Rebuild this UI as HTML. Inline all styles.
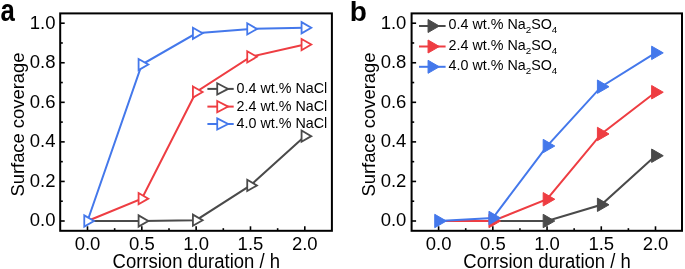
<!DOCTYPE html>
<html><head><meta charset="utf-8"><style>
html,body{margin:0;padding:0;background:#fff;width:685px;height:269px;overflow:hidden}
svg{display:block;will-change:transform}
text{font-family:"Liberation Sans", sans-serif;fill:#000}
.tk{font-size:18.5px}
.ax{font-size:18.5px}
.ay{font-size:18.4px}
.lga{font-size:14.3px}
.lgb{font-size:14.3px}
.sb{font-size:9.8px}
.pl{font-size:28px;font-weight:bold}
</style></head><body>
<svg width="685" height="269" viewBox="0 0 685 269">
<rect width="685" height="269" fill="#fff"/>
<rect x="60.20" y="13.40" width="271.70" height="217.40" fill="none" stroke="#000" stroke-width="2.00"/>
<line x1="60.20" y1="221.00" x2="64.70" y2="221.00" stroke="#000" stroke-width="1.6"/>
<line x1="60.20" y1="201.22" x2="62.80" y2="201.22" stroke="#000" stroke-width="1.6"/>
<line x1="60.20" y1="181.44" x2="64.70" y2="181.44" stroke="#000" stroke-width="1.6"/>
<line x1="60.20" y1="161.66" x2="62.80" y2="161.66" stroke="#000" stroke-width="1.6"/>
<line x1="60.20" y1="141.88" x2="64.70" y2="141.88" stroke="#000" stroke-width="1.6"/>
<line x1="60.20" y1="122.10" x2="62.80" y2="122.10" stroke="#000" stroke-width="1.6"/>
<line x1="60.20" y1="102.32" x2="64.70" y2="102.32" stroke="#000" stroke-width="1.6"/>
<line x1="60.20" y1="82.54" x2="62.80" y2="82.54" stroke="#000" stroke-width="1.6"/>
<line x1="60.20" y1="62.76" x2="64.70" y2="62.76" stroke="#000" stroke-width="1.6"/>
<line x1="60.20" y1="42.98" x2="62.80" y2="42.98" stroke="#000" stroke-width="1.6"/>
<line x1="60.20" y1="23.20" x2="64.70" y2="23.20" stroke="#000" stroke-width="1.6"/>
<line x1="87.50" y1="230.80" x2="87.50" y2="226.30" stroke="#000" stroke-width="1.6"/>
<line x1="114.66" y1="230.80" x2="114.66" y2="228.20" stroke="#000" stroke-width="1.6"/>
<line x1="141.82" y1="230.80" x2="141.82" y2="226.30" stroke="#000" stroke-width="1.6"/>
<line x1="168.99" y1="230.80" x2="168.99" y2="228.20" stroke="#000" stroke-width="1.6"/>
<line x1="196.15" y1="230.80" x2="196.15" y2="226.30" stroke="#000" stroke-width="1.6"/>
<line x1="223.31" y1="230.80" x2="223.31" y2="228.20" stroke="#000" stroke-width="1.6"/>
<line x1="250.48" y1="230.80" x2="250.48" y2="226.30" stroke="#000" stroke-width="1.6"/>
<line x1="277.64" y1="230.80" x2="277.64" y2="228.20" stroke="#000" stroke-width="1.6"/>
<line x1="304.80" y1="230.80" x2="304.80" y2="226.30" stroke="#000" stroke-width="1.6"/>
<text x="55.50" y="226.40" text-anchor="end" class="tk">0.0</text>
<text x="55.50" y="186.84" text-anchor="end" class="tk">0.2</text>
<text x="55.50" y="147.28" text-anchor="end" class="tk">0.4</text>
<text x="55.50" y="107.72" text-anchor="end" class="tk">0.6</text>
<text x="55.50" y="68.16" text-anchor="end" class="tk">0.8</text>
<text x="55.50" y="28.60" text-anchor="end" class="tk">1.0</text>
<text x="87.50" y="249.60" text-anchor="middle" class="tk">0.0</text>
<text x="141.82" y="249.60" text-anchor="middle" class="tk">0.5</text>
<text x="196.15" y="249.60" text-anchor="middle" class="tk">1.0</text>
<text x="250.48" y="249.60" text-anchor="middle" class="tk">1.5</text>
<text x="304.80" y="249.60" text-anchor="middle" class="tk">2.0</text>
<text transform="translate(196.30 268.00) scale(1 1.060)" text-anchor="middle" class="ax">Corrsion duration / h</text>
<text transform="translate(23.90 124.55) rotate(-90) scale(1 1.030)" text-anchor="middle" class="ay">Surface coverage</text>
<polyline points="87.50,221.00 141.82,221.00 196.15,220.21 250.48,185.40 304.80,136.14" fill="none" stroke="#4a4a4a" stroke-width="2"/>
<path d="M138.59 215.40L148.29 221.00L138.59 226.60Z" fill="#fff" stroke="#4a4a4a" stroke-width="1.80" stroke-linejoin="miter"/>
<path d="M192.92 214.61L202.62 220.21L192.92 225.81Z" fill="#fff" stroke="#4a4a4a" stroke-width="1.80" stroke-linejoin="miter"/>
<path d="M247.24 179.80L256.94 185.40L247.24 191.00Z" fill="#fff" stroke="#4a4a4a" stroke-width="1.80" stroke-linejoin="miter"/>
<path d="M301.57 130.54L311.27 136.14L301.57 141.74Z" fill="#fff" stroke="#4a4a4a" stroke-width="1.80" stroke-linejoin="miter"/>
<polyline points="87.50,221.00 141.82,198.65 196.15,92.03 250.48,56.83 304.80,44.56" fill="none" stroke="#ee3d42" stroke-width="2"/>
<path d="M138.59 193.05L148.29 198.65L138.59 204.25Z" fill="#fff" stroke="#ee3d42" stroke-width="1.80" stroke-linejoin="miter"/>
<path d="M192.92 86.43L202.62 92.03L192.92 97.63Z" fill="#fff" stroke="#ee3d42" stroke-width="1.80" stroke-linejoin="miter"/>
<path d="M247.24 51.23L256.94 56.83L247.24 62.43Z" fill="#fff" stroke="#ee3d42" stroke-width="1.80" stroke-linejoin="miter"/>
<path d="M301.57 38.96L311.27 44.56L301.57 50.16Z" fill="#fff" stroke="#ee3d42" stroke-width="1.80" stroke-linejoin="miter"/>
<polyline points="87.50,221.00 141.82,64.54 196.15,33.29 250.48,28.94 304.80,27.75" fill="none" stroke="#4478eb" stroke-width="2"/>
<path d="M84.27 215.40L93.97 221.00L84.27 226.60Z" fill="#fff" stroke="#4478eb" stroke-width="1.80" stroke-linejoin="miter"/>
<path d="M138.59 58.94L148.29 64.54L138.59 70.14Z" fill="#fff" stroke="#4478eb" stroke-width="1.80" stroke-linejoin="miter"/>
<path d="M192.92 27.69L202.62 33.29L192.92 38.89Z" fill="#fff" stroke="#4478eb" stroke-width="1.80" stroke-linejoin="miter"/>
<path d="M247.24 23.34L256.94 28.94L247.24 34.54Z" fill="#fff" stroke="#4478eb" stroke-width="1.80" stroke-linejoin="miter"/>
<path d="M301.57 22.15L311.27 27.75L301.57 33.35Z" fill="#fff" stroke="#4478eb" stroke-width="1.80" stroke-linejoin="miter"/>
<line x1="207.40" y1="88.90" x2="233.70" y2="88.90" stroke="#4a4a4a" stroke-width="2"/>
<path d="M217.23 83.30L228.09 88.90L217.23 94.50Z" fill="#fff" stroke="#4a4a4a" stroke-width="1.80" stroke-linejoin="miter"/>
<text x="236.60" y="92.80" class="lga">0.4 wt.% NaCl</text>
<line x1="207.40" y1="106.60" x2="233.70" y2="106.60" stroke="#ee3d42" stroke-width="2"/>
<path d="M217.23 101.00L228.09 106.60L217.23 112.20Z" fill="#fff" stroke="#ee3d42" stroke-width="1.80" stroke-linejoin="miter"/>
<text x="236.60" y="110.50" class="lga">2.4 wt.% NaCl</text>
<line x1="207.40" y1="124.00" x2="233.70" y2="124.00" stroke="#4478eb" stroke-width="2"/>
<path d="M217.23 118.40L228.09 124.00L217.23 129.60Z" fill="#fff" stroke="#4478eb" stroke-width="1.80" stroke-linejoin="miter"/>
<text x="236.60" y="127.90" class="lga">4.0 wt.% NaCl</text>
<rect x="411.60" y="13.40" width="270.40" height="217.40" fill="none" stroke="#000" stroke-width="2.00"/>
<line x1="411.60" y1="221.00" x2="416.10" y2="221.00" stroke="#000" stroke-width="1.6"/>
<line x1="411.60" y1="201.22" x2="414.20" y2="201.22" stroke="#000" stroke-width="1.6"/>
<line x1="411.60" y1="181.44" x2="416.10" y2="181.44" stroke="#000" stroke-width="1.6"/>
<line x1="411.60" y1="161.66" x2="414.20" y2="161.66" stroke="#000" stroke-width="1.6"/>
<line x1="411.60" y1="141.88" x2="416.10" y2="141.88" stroke="#000" stroke-width="1.6"/>
<line x1="411.60" y1="122.10" x2="414.20" y2="122.10" stroke="#000" stroke-width="1.6"/>
<line x1="411.60" y1="102.32" x2="416.10" y2="102.32" stroke="#000" stroke-width="1.6"/>
<line x1="411.60" y1="82.54" x2="414.20" y2="82.54" stroke="#000" stroke-width="1.6"/>
<line x1="411.60" y1="62.76" x2="416.10" y2="62.76" stroke="#000" stroke-width="1.6"/>
<line x1="411.60" y1="42.98" x2="414.20" y2="42.98" stroke="#000" stroke-width="1.6"/>
<line x1="411.60" y1="23.20" x2="416.10" y2="23.20" stroke="#000" stroke-width="1.6"/>
<line x1="438.60" y1="230.80" x2="438.60" y2="226.30" stroke="#000" stroke-width="1.6"/>
<line x1="465.71" y1="230.80" x2="465.71" y2="228.20" stroke="#000" stroke-width="1.6"/>
<line x1="492.83" y1="230.80" x2="492.83" y2="226.30" stroke="#000" stroke-width="1.6"/>
<line x1="519.94" y1="230.80" x2="519.94" y2="228.20" stroke="#000" stroke-width="1.6"/>
<line x1="547.05" y1="230.80" x2="547.05" y2="226.30" stroke="#000" stroke-width="1.6"/>
<line x1="574.16" y1="230.80" x2="574.16" y2="228.20" stroke="#000" stroke-width="1.6"/>
<line x1="601.28" y1="230.80" x2="601.28" y2="226.30" stroke="#000" stroke-width="1.6"/>
<line x1="628.39" y1="230.80" x2="628.39" y2="228.20" stroke="#000" stroke-width="1.6"/>
<line x1="655.50" y1="230.80" x2="655.50" y2="226.30" stroke="#000" stroke-width="1.6"/>
<text x="406.40" y="226.40" text-anchor="end" class="tk">0.0</text>
<text x="406.40" y="186.84" text-anchor="end" class="tk">0.2</text>
<text x="406.40" y="147.28" text-anchor="end" class="tk">0.4</text>
<text x="406.40" y="107.72" text-anchor="end" class="tk">0.6</text>
<text x="406.40" y="68.16" text-anchor="end" class="tk">0.8</text>
<text x="406.40" y="28.60" text-anchor="end" class="tk">1.0</text>
<text x="438.60" y="249.60" text-anchor="middle" class="tk">0.0</text>
<text x="492.83" y="249.60" text-anchor="middle" class="tk">0.5</text>
<text x="547.05" y="249.60" text-anchor="middle" class="tk">1.0</text>
<text x="601.28" y="249.60" text-anchor="middle" class="tk">1.5</text>
<text x="655.50" y="249.60" text-anchor="middle" class="tk">2.0</text>
<text transform="translate(547.05 268.00) scale(1 1.060)" text-anchor="middle" class="ax">Corrsion duration / h</text>
<text transform="translate(374.50 124.55) rotate(-90) scale(1 1.030)" text-anchor="middle" class="ay">Surface coverage</text>
<polyline points="438.60,221.00 492.83,221.00 547.05,221.00 601.28,204.78 655.50,155.73" fill="none" stroke="#4a4a4a" stroke-width="2"/>
<path d="M543.18 214.30L554.79 221.00L543.18 227.70Z" fill="#4a4a4a" stroke="#4a4a4a" stroke-width="1" stroke-linejoin="miter"/>
<path d="M597.41 198.08L609.01 204.78L597.41 211.48Z" fill="#4a4a4a" stroke="#4a4a4a" stroke-width="1" stroke-linejoin="miter"/>
<path d="M651.63 149.03L663.24 155.73L651.63 162.43Z" fill="#4a4a4a" stroke="#4a4a4a" stroke-width="1" stroke-linejoin="miter"/>
<polyline points="438.60,221.00 492.83,221.00 547.05,199.24 601.28,133.97 655.50,92.23" fill="none" stroke="#ee3d42" stroke-width="2"/>
<path d="M488.96 214.30L500.56 221.00L488.96 227.70Z" fill="#ee3d42" stroke="#ee3d42" stroke-width="1" stroke-linejoin="miter"/>
<path d="M543.18 192.54L554.79 199.24L543.18 205.94Z" fill="#ee3d42" stroke="#ee3d42" stroke-width="1" stroke-linejoin="miter"/>
<path d="M597.41 127.27L609.01 133.97L597.41 140.67Z" fill="#ee3d42" stroke="#ee3d42" stroke-width="1" stroke-linejoin="miter"/>
<path d="M651.63 85.53L663.24 92.23L651.63 98.93Z" fill="#ee3d42" stroke="#ee3d42" stroke-width="1" stroke-linejoin="miter"/>
<polyline points="438.60,221.00 492.83,218.03 547.05,146.03 601.28,86.69 655.50,52.87" fill="none" stroke="#4478eb" stroke-width="2"/>
<path d="M434.73 214.30L446.34 221.00L434.73 227.70Z" fill="#4478eb" stroke="#4478eb" stroke-width="1" stroke-linejoin="miter"/>
<path d="M488.96 211.33L500.56 218.03L488.96 224.73Z" fill="#4478eb" stroke="#4478eb" stroke-width="1" stroke-linejoin="miter"/>
<path d="M543.18 139.33L554.79 146.03L543.18 152.73Z" fill="#4478eb" stroke="#4478eb" stroke-width="1" stroke-linejoin="miter"/>
<path d="M597.41 79.99L609.01 86.69L597.41 93.39Z" fill="#4478eb" stroke="#4478eb" stroke-width="1" stroke-linejoin="miter"/>
<path d="M651.63 46.17L663.24 52.87L651.63 59.57Z" fill="#4478eb" stroke="#4478eb" stroke-width="1" stroke-linejoin="miter"/>
<line x1="419.00" y1="26.00" x2="445.60" y2="26.00" stroke="#4a4a4a" stroke-width="2"/>
<path d="M428.05 19.50L439.31 26.00L428.05 32.50Z" fill="#4a4a4a" stroke="#4a4a4a" stroke-width="1" stroke-linejoin="miter"/>
<text x="448.60" y="29.40" class="lgb">0.4 wt.% Na<tspan class="sb" dy="4">2</tspan><tspan dy="-4">SO</tspan><tspan class="sb" dy="4">4</tspan></text>
<line x1="419.00" y1="46.50" x2="445.60" y2="46.50" stroke="#ee3d42" stroke-width="2"/>
<path d="M428.05 40.00L439.31 46.50L428.05 53.00Z" fill="#ee3d42" stroke="#ee3d42" stroke-width="1" stroke-linejoin="miter"/>
<text x="448.60" y="49.90" class="lgb">2.4 wt.% Na<tspan class="sb" dy="4">2</tspan><tspan dy="-4">SO</tspan><tspan class="sb" dy="4">4</tspan></text>
<line x1="419.00" y1="66.80" x2="445.60" y2="66.80" stroke="#4478eb" stroke-width="2"/>
<path d="M428.05 60.30L439.31 66.80L428.05 73.30Z" fill="#4478eb" stroke="#4478eb" stroke-width="1" stroke-linejoin="miter"/>
<text x="448.60" y="70.20" class="lgb">4.0 wt.% Na<tspan class="sb" dy="4">2</tspan><tspan dy="-4">SO</tspan><tspan class="sb" dy="4">4</tspan></text>
<text transform="translate(0.4 21.3) scale(0.92 1.09)" class="pl">a</text>
<text x="349.8" y="21" class="pl">b</text>
</svg>
</body></html>
